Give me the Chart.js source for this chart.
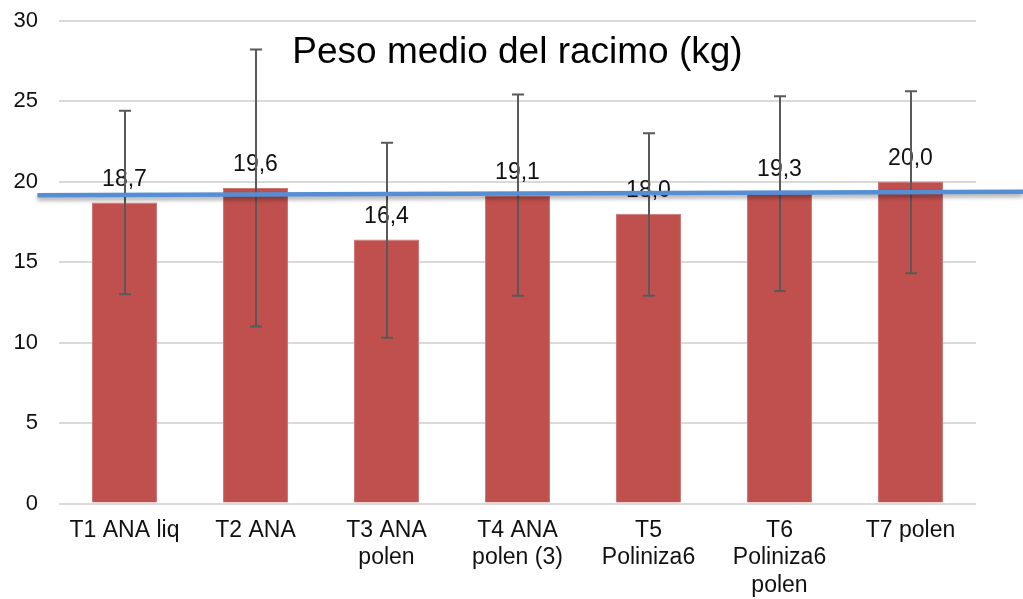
<!DOCTYPE html>
<html>
<head>
<meta charset="utf-8">
<script src="https://cdn.jsdelivr.net/npm/chart.js@4/dist/chart.umd.min.js"></script>
<style>
html,body{margin:0;padding:0;background:#fff;}
#wrap{width:1023px;height:599px;position:relative;}
</style>
</head>
<body>
<div id="wrap"><canvas id="c" width="1023" height="599"></canvas></div>
<script>
const categories = [["T1 ANA liq"], ["T2 ANA"], ["T3 ANA", "polen"], ["T4 ANA", "polen (3)"], ["T5", "Poliniza6"], ["T6", "Poliniza6", "polen"], ["T7 polen"]];
const means = [18.7, 19.6, 16.4, 19.1, 18.0, 19.3, 20.0];
const errLow = [13.0, 11.0, 10.3, 12.9, 12.9, 13.2, 14.3];
const errHigh = [24.4, 28.2, 22.4, 25.4, 23.0, 25.3, 25.6];
const valueLabels = ["18,7", "19,6", "16,4", "19,1", "18,0", "19,3", "20,0"];
const yTicks = [0, 5, 10, 15, 20, 25, 30];
const titleText = "Peso medio del racimo (kg)";
// hand-drawn reference line: category positions and values at its two ends
const refLineIdx = [-0.665, 6.86];
const refLineVal = [19.15, 19.36];

const FONT = "'Liberation Sans', Arial, sans-serif";

const extras = {
  id: 'extras',
  afterDatasetsDraw(chart) {
    const ctx = chart.ctx;
    const y = chart.scales.y;
    const meta = chart.getDatasetMeta(0);
    ctx.save();
    ctx.fillStyle = '#111';
    ctx.font = '23px ' + FONT;
    ctx.textAlign = 'center';
    ctx.textBaseline = 'alphabetic';
    meta.data.forEach((bar, i) => {
      ctx.fillText(valueLabels[i], bar.x, y.getPixelForValue(means[i]) - 16.5);
    });
    ctx.strokeStyle = '#595959';
    ctx.lineWidth = 2;
    meta.data.forEach((bar, i) => {
      const yl = y.getPixelForValue(errLow[i]);
      const yh = y.getPixelForValue(errHigh[i]);
      const cx = Math.round(bar.x);
      ctx.beginPath();
      ctx.moveTo(cx, yl); ctx.lineTo(cx, yh);
      ctx.moveTo(cx - 6, yl); ctx.lineTo(cx + 6, yl);
      ctx.moveTo(cx - 6, yh); ctx.lineTo(cx + 6, yh);
      ctx.stroke();
    });
    ctx.restore();
  },
  afterDraw(chart) {
    const ctx = chart.ctx;
    const x = chart.scales.x, y = chart.scales.y;
    const area = chart.chartArea;
    ctx.save();
    ctx.fillStyle = '#000';
    ctx.font = '37px ' + FONT;
    ctx.textAlign = 'center';
    ctx.textBaseline = 'alphabetic';
    ctx.fillText(titleText, (area.left + area.right) / 2, area.top + 42);
    ctx.shadowColor = 'rgba(0,0,0,0.35)';
    ctx.shadowBlur = 4;
    ctx.shadowOffsetY = 3;
    ctx.strokeStyle = '#558ed5';
    ctx.lineWidth = 4.5;
    ctx.beginPath();
    ctx.moveTo(x.getPixelForValue(refLineIdx[0]), y.getPixelForValue(refLineVal[0]));
    ctx.lineTo(x.getPixelForValue(refLineIdx[1]), y.getPixelForValue(refLineVal[1]));
    ctx.stroke();
    ctx.restore();
  }
};

new Chart(document.getElementById('c'), {
  type: 'bar',
  data: {
    labels: categories,
    datasets: [{
      data: means,
      backgroundColor: '#c0504d',
      borderColor: '#cc7674',
      borderWidth: 1,
      barPercentage: 0.496,
      categoryPercentage: 1.0
    }]
  },
  options: {
    responsive: false,
    animation: false,
    events: [],
    layout: { padding: { left: 0, right: 47, top: 20.5, bottom: 0 } },
    plugins: { legend: { display: false }, title: { display: false }, tooltip: { enabled: false } },
    scales: {
      x: {
        grid: { display: false, drawTicks: false },
        border: { display: false },
        ticks: {
          color: '#111',
          font: { family: FONT, size: 23, lineHeight: 1.2 },
          padding: 13,
          maxRotation: 0,
          autoSkip: false
        },
        afterFit(scale) { scale.height = 95.5; scale.paddingLeft = 0; scale.paddingRight = 0; }
      },
      y: {
        min: 0, max: 30,
        afterBuildTicks(scale) { scale.ticks = yTicks.map(v => ({ value: v })); },
        grid: { color: '#d9d9d9', lineWidth: 2, drawTicks: false },
        border: { display: false },
        ticks: {
          color: '#111',
          font: { family: FONT, size: 22 },
          padding: 21
        },
        afterFit(scale) { scale.width = 59; scale.paddingTop = 0; scale.paddingBottom = 0; }
      }
    }
  },
  plugins: [extras]
});
</script>
</body>
</html>
